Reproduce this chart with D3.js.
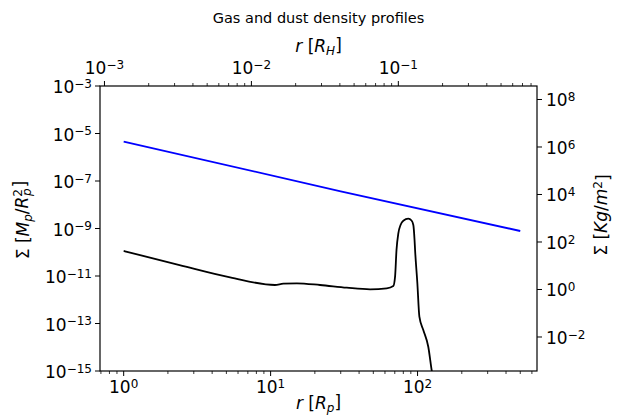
<!DOCTYPE html>
<html>
<head>
<meta charset="utf-8">
<script src="https://cdn.jsdelivr.net/npm/d3@7"></script>
<style>
  body { margin: 0; background: #fff; }
  svg { display: block; font-family: "DejaVu Sans", sans-serif; }
  .tick-label { font-size: 17px; fill: #000; }
  .axis-label { font-size: 17px; fill: #000; }
</style>
</head>
<body>
<div id="chart"></div>
<script>
// gas profile (blue), r in Rp, sigma in Mp/Rp^2
var rGas = [1, 30, 500]
var sigmaGas = [4.6e-6, 3.7e-8, 7.85e-10]

// dust profile (black)
var rDust = [1, 2.4, 5.3, 10.7, 12.2, 15.1, 21.7, 33, 47.5, 61.7, 68.4, 70.3, 71.9, 74, 76.6, 80, 86.5, 91, 93.6, 95.4, 96.2, 99.7, 102.9, 109.4, 118.3, 125, 130]
var sigmaDust = [1.13e-10, 2.9e-11, 8.81e-12, 4.18e-12, 4.74e-12, 4.93e-12, 4.18e-12, 3.21e-12, 2.75e-12, 3.03e-12, 3.79e-12, 9.35e-12, 1.24e-10, 6.3e-10, 1.4e-9, 2.13e-9, 2.59e-9, 2.17e-9, 1.4e-9, 3.28e-10, 1.24e-10, 4.93e-12, 1.93e-13, 5.32e-14, 1.05e-14, 1e-15, 2.5e-16]

var leftTickExp = [-3, -5, -7, -9, -11, -13, -15]
var rightTickExp = [8, 6, 4, 2, 0, -2]
var bottomTickExp = [0, 1, 2]
var topTickExp = [-3, -2, -1]

var RH = 740          // Hill radius in Rp
var toKgM2 = 3.7e11   // Mp/Rp^2 -> kg/m^2

var width = 623, height = 419
var margin = {top: 86, right: 86, bottom: 48, left: 100}
var pw = width - margin.left - margin.right,
    ph = height - margin.top - margin.bottom

var xDom = [0.69, 650]
var x = d3.scaleLog().domain(xDom).range([margin.left, margin.left + pw])
var xTop = d3.scaleLog().domain([xDom[0] / RH, xDom[1] / RH]).range([margin.left, margin.left + pw])
var y = d3.scaleLog().domain([1e-15, 1e-3]).range([margin.top + ph, margin.top])
var yR = d3.scaleLog().domain([1e-15 * toKgM2, 1e-3 * toKgM2]).range([margin.top + ph, margin.top])

var svg = d3.select("#chart").append("svg")
  .attr("width", width)
  .attr("height", height)

svg.append("defs").append("clipPath")
  .attr("id", "clip")
  .append("rect")
  .attr("x", margin.left)
  .attr("y", margin.top)
  .attr("width", pw)
  .attr("height", ph)

function powLabel(sel, e) {
  sel.text("10")
  sel.append("tspan")
    .attr("dy", "-0.45em")
    .style("font-size", "12px")
    .text(String(e).replace("-", "\u2212"))
}

function minorTicks(scale) {
  return scale.ticks().filter(function(v) {
    var l = Math.log10(v)
    return Math.abs(l - Math.round(l)) > 1e-6
  })
}

var axes = svg.append("g")

// bottom
bottomTickExp.forEach(function(e) {
  var px = x(Math.pow(10, e))
  axes.append("line").attr("x1", px).attr("x2", px)
    .attr("y1", margin.top + ph).attr("y2", margin.top + ph + 5).attr("stroke", "#000")
  axes.append("text").attr("class", "tick-label")
    .attr("x", px).attr("y", margin.top + ph + 22).attr("text-anchor", "middle")
    .call(powLabel, e)
})
minorTicks(x).forEach(function(v) {
  var px = x(v)
  axes.append("line").attr("x1", px).attr("x2", px)
    .attr("y1", margin.top + ph).attr("y2", margin.top + ph + 3).attr("stroke", "#000").attr("stroke-width", 0.8)
})

// top
topTickExp.forEach(function(e) {
  var px = xTop(Math.pow(10, e))
  axes.append("line").attr("x1", px).attr("x2", px)
    .attr("y1", margin.top).attr("y2", margin.top - 5).attr("stroke", "#000")
  axes.append("text").attr("class", "tick-label")
    .attr("x", px).attr("y", margin.top - 12).attr("text-anchor", "middle")
    .call(powLabel, e)
})
minorTicks(xTop).forEach(function(v) {
  var px = xTop(v)
  axes.append("line").attr("x1", px).attr("x2", px)
    .attr("y1", margin.top).attr("y2", margin.top - 3).attr("stroke", "#000").attr("stroke-width", 0.8)
})

// left
leftTickExp.forEach(function(e) {
  var py = y(Math.pow(10, e))
  axes.append("line").attr("x1", margin.left).attr("x2", margin.left - 5)
    .attr("y1", py).attr("y2", py).attr("stroke", "#000")
  axes.append("text").attr("class", "tick-label")
    .attr("x", margin.left - 8).attr("y", py + 7).attr("text-anchor", "end")
    .call(powLabel, e)
})

// right
rightTickExp.forEach(function(e) {
  var py = yR(Math.pow(10, e))
  axes.append("line").attr("x1", margin.left + pw).attr("x2", margin.left + pw + 5)
    .attr("y1", py).attr("y2", py).attr("stroke", "#000")
  axes.append("text").attr("class", "tick-label")
    .attr("x", margin.left + pw + 9).attr("y", py + 7).attr("text-anchor", "start")
    .call(powLabel, e)
})

// curves
var line = d3.line()
  .x(function(d){ return x(d[0]) })
  .y(function(d){ return y(d[1]) })

var g = svg.append("g").attr("clip-path", "url(#clip)")
g.append("path")
  .datum(d3.zip(rGas, sigmaGas))
  .attr("d", line.curve(d3.curveLinear))
  .attr("fill", "none").attr("stroke", "#0000ff").attr("stroke-width", 1.8)
g.append("path")
  .datum(d3.zip(rDust, sigmaDust))
  .attr("d", line.curve(d3.curveMonotoneX))
  .attr("fill", "none").attr("stroke", "#000").attr("stroke-width", 1.8)

// frame
svg.append("rect")
  .attr("x", margin.left).attr("y", margin.top)
  .attr("width", pw).attr("height", ph)
  .attr("fill", "none").attr("stroke", "#000").attr("stroke-width", 1.2)

// labels
var cx = margin.left + pw / 2

svg.append("text").attr("x", cx).attr("y", 23)
  .attr("text-anchor", "middle").style("font-size", "14.5px")
  .text("Gas and dust density profiles")

var tl = svg.append("text").attr("class", "axis-label").attr("x", cx).attr("y", 52).attr("text-anchor", "middle")
tl.append("tspan").style("font-style", "italic").text("r")
tl.append("tspan").text(" [")
tl.append("tspan").style("font-style", "italic").text("R")
tl.append("tspan").attr("dy", "0.25em").style("font-size", "12px").style("font-style", "italic").text("H")
tl.append("tspan").attr("dy", "-0.25em").text("]")

var bl = svg.append("text").attr("class", "axis-label").attr("x", cx).attr("y", 409).attr("text-anchor", "middle")
bl.append("tspan").style("font-style", "italic").text("r")
bl.append("tspan").text(" [")
bl.append("tspan").style("font-style", "italic").text("R")
bl.append("tspan").attr("dy", "0.25em").style("font-size", "12px").style("font-style", "italic").text("p")
bl.append("tspan").attr("dy", "-0.25em").text("]")

var ll = svg.append("text").attr("class", "axis-label")
  .attr("transform", "translate(29,220) rotate(-90)").attr("text-anchor", "middle")
ll.append("tspan").text("\u03a3 [")
ll.append("tspan").style("font-style", "italic").text("M")
ll.append("tspan").attr("dy", "0.25em").style("font-size", "12px").style("font-style", "italic").text("p")
ll.append("tspan").attr("dy", "-0.25em").text("/")
ll.append("tspan").style("font-style", "italic").text("R")
ll.append("tspan").attr("dy", "-0.45em").style("font-size", "12px").text("2")
ll.append("tspan").attr("dx", "-7px").attr("dy", "0.75em").style("font-size", "12px").style("font-style", "italic").text("p")
ll.append("tspan").attr("dx", "1px").attr("dy", "-0.3em").text("]")

var rl = svg.append("text").attr("class", "axis-label")
  .attr("transform", "translate(607,215) rotate(-90)").attr("text-anchor", "middle")
rl.append("tspan").text("\u03a3 [")
rl.append("tspan").style("font-style", "italic").text("Kg")
rl.append("tspan").text("/")
rl.append("tspan").style("font-style", "italic").text("m")
rl.append("tspan").attr("dy", "-0.45em").style("font-size", "12px").text("2")
rl.append("tspan").attr("dy", "0.45em").text("]")
</script>
</body>
</html>
